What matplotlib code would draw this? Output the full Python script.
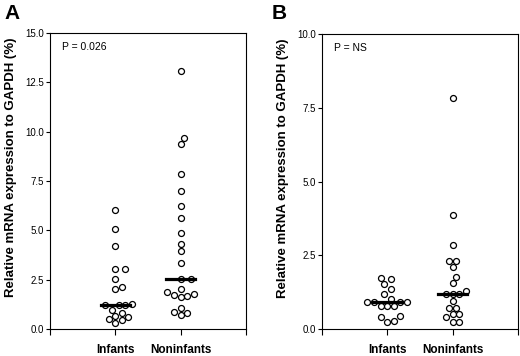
import numpy as np
import matplotlib
matplotlib.use("Agg")
import matplotlib.pyplot as plt

plt.rcParams['font.family'] = ['Liberation Sans', 'DejaVu Sans']

groups = ['Infants', 'Noninfants']

# panel A values (%)
a_infants = [6.05, 5.05, 4.2, 3.05, 3.05, 2.55, 2.15, 2.0, 1.25, 1.2, 1.2, 1.2,
             0.95, 0.8, 0.65, 0.6, 0.5, 0.45, 0.3]
a_noninfants = [13.1, 9.7, 9.4, 7.85, 7.0, 6.25, 5.6, 4.85, 4.3, 3.95, 3.35,
                2.55, 2.55, 2.0, 1.85, 1.75, 1.65, 1.6, 1.7, 1.05, 0.85, 0.8, 0.7]
a_medians = [1.2, 2.55]

# panel B values (%)
b_infants = [1.72, 1.7, 1.52, 1.35, 1.18, 1.0, 0.92, 0.9, 0.9, 0.9, 0.78, 0.78,
             0.78, 0.45, 0.42, 0.28, 0.25]
b_noninfants = [7.85, 3.85, 2.85, 2.3, 2.3, 2.1, 1.75, 1.55, 1.3, 1.2, 1.2, 1.2,
                0.95, 0.72, 0.72, 0.5, 0.5, 0.42, 0.25, 0.25]
b_medians = [0.9, 1.2]

fig = plt.figure(figsize=(5.2, 3.56), dpi=100)


def swarm(ax, vals, center, gap=6.6):
    # simple beeswarm in pixel space
    vals = sorted(vals)
    placed = []
    xs = []
    for v in vals:
        cx, cy = ax.transData.transform((center, v))
        k = 0
        while True:
            cands = [0] if k == 0 else [k * gap, -k * gap]
            ok = None
            for off in cands:
                if all((cx + off - px) ** 2 + (cy - py) ** 2 >= gap ** 2 for px, py in placed):
                    ok = off
                    break
            if ok is not None:
                break
            k += 0.5
        placed.append((cx + ok, cy))
        x_data = ax.transData.inverted().transform((cx + ok, cy))[0]
        xs.append(x_data)
    return xs, vals


def panel(rect, letter, data, medians, ymax, yticks, ptext, letter_x):
    ax = fig.add_axes(rect)
    ax.set_xlim(0, 3)
    ax.set_ylim(0, ymax)
    ax.set_yticks(yticks)
    ax.set_yticklabels(['%.1f' % t for t in yticks], fontsize=7)
    ax.set_xticks([0, 1, 2, 3])
    ax.set_xticklabels(['', groups[0], groups[1], ''], fontsize=8.5, fontweight='bold')
    ax.tick_params(axis='y', direction='out', length=3, width=0.8, pad=1.5)
    ax.tick_params(axis='x', direction='out', length=4, width=0.8, pad=6.5)
    for s in ax.spines.values():
        s.set_linewidth(0.8)
    for i, vals in enumerate(data):
        xs, ys = swarm(ax, vals, i + 1)
        ax.plot(xs, ys, 'o', ms=4.3, mfc='white', mec='black', mew=0.9, zorder=3)
        ax.plot([i + 1 - 0.22, i + 1 + 0.22], [medians[i], medians[i]],
                color='black', lw=2.3, zorder=4)
    ax.set_ylabel('Relative mRNA expression to GAPDH (%)', fontsize=9.5,
                  fontweight='bold')
    ax.yaxis.set_label_coords(-0.17, 0.545)
    ax.text(0.06, 0.97, ptext, transform=ax.transAxes, fontsize=7.5,
            va='top', ha='left')
    fig.text(letter_x, 0.99, letter, fontsize=15, fontweight='bold',
             va='top', ha='left')
    return ax


panel([0.096, 0.076, 0.377, 0.831], 'A', [a_infants, a_noninfants], a_medians,
      15, [0, 2.5, 5, 7.5, 10, 12.5, 15], 'P = 0.026', 0.008)
panel([0.619, 0.076, 0.377, 0.828], 'B', [b_infants, b_noninfants], b_medians,
      10, [0, 2.5, 5, 7.5, 10], 'P = NS', 0.523)

fig.savefig('out.png', dpi=100)
